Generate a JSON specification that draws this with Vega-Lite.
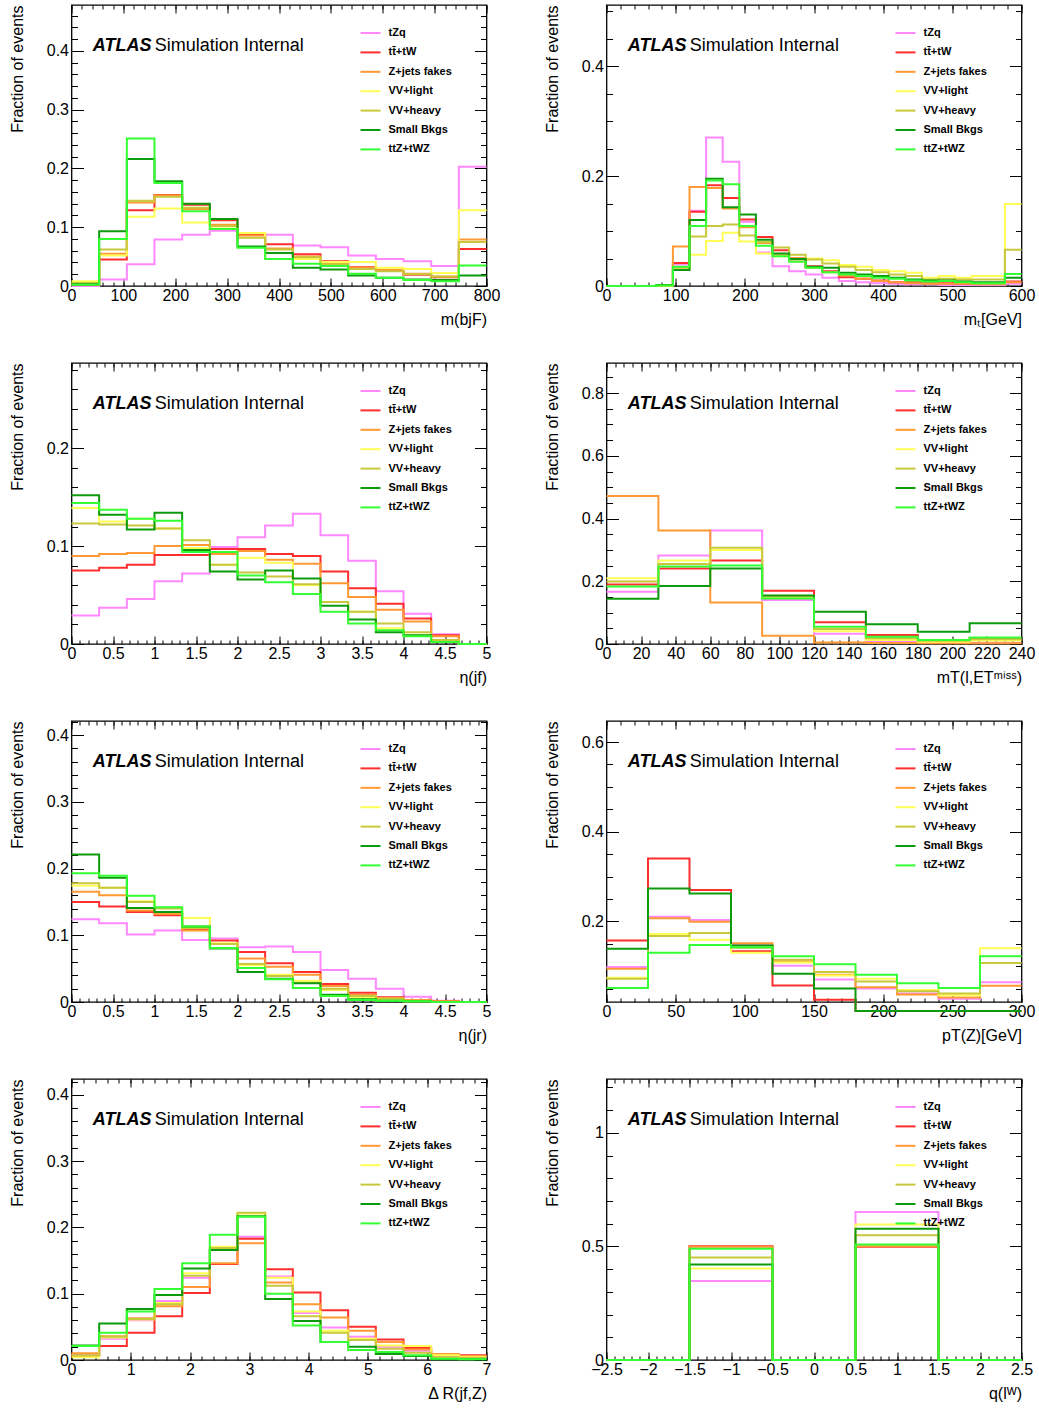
{
"$schema": "https://vega.github.io/schema/vega-lite/v6.json",
"padding": {"left": 8.5, "top": 3, "right": 0, "bottom": 0},
"bounds": "flush",
"columns": 2,
"spacing": {"row": 77, "column": 120},
"resolve": {"scale": {"color": "independent"}, "legend": {"color": "independent"}},
"datasets": {
"p1": [
{"x":0,"tzq":0,"ttw":0.002,"zj":0.004,"vvl":0.008,"vvh":0.005,"sb":0.003,"ttz":0.002},
{"x":53.33,"tzq":0.011,"ttw":0.045,"zj":0.055,"vvl":0.052,"vvh":0.062,"sb":0.093,"ttz":0.080},
{"x":106.67,"tzq":0.037,"ttw":0.129,"zj":0.142,"vvl":0.118,"vvh":0.145,"sb":0.216,"ttz":0.251},
{"x":160,"tzq":0.079,"ttw":0.155,"zj":0.154,"vvl":0.132,"vvh":0.152,"sb":0.178,"ttz":0.175},
{"x":213.33,"tzq":0.087,"ttw":0.138,"zj":0.131,"vvl":0.108,"vvh":0.133,"sb":0.140,"ttz":0.127},
{"x":266.67,"tzq":0.094,"ttw":0.112,"zj":0.104,"vvl":0.098,"vvh":0.102,"sb":0.114,"ttz":0.097},
{"x":320,"tzq":0.089,"ttw":0.087,"zj":0.086,"vvl":0.090,"vvh":0.082,"sb":0.067,"ttz":0.065},
{"x":373.33,"tzq":0.087,"ttw":0.071,"zj":0.064,"vvl":0.046,"vvh":0.062,"sb":0.056,"ttz":0.046},
{"x":426.67,"tzq":0.069,"ttw":0.054,"zj":0.050,"vvl":0.046,"vvh":0.049,"sb":0.031,"ttz":0.038},
{"x":480,"tzq":0.066,"ttw":0.042,"zj":0.038,"vvl":0.041,"vvh":0.037,"sb":0.028,"ttz":0.034},
{"x":533.33,"tzq":0.052,"ttw":0.032,"zj":0.031,"vvl":0.041,"vvh":0.029,"sb":0.018,"ttz":0.021},
{"x":586.67,"tzq":0.046,"ttw":0.027,"zj":0.028,"vvl":0.031,"vvh":0.025,"sb":0.014,"ttz":0.014},
{"x":640,"tzq":0.042,"ttw":0.019,"zj":0.021,"vvl":0.029,"vvh":0.020,"sb":0.011,"ttz":0.010},
{"x":693.33,"tzq":0.034,"ttw":0.015,"zj":0.016,"vvl":0.022,"vvh":0.016,"sb":0.010,"ttz":0.008},
{"x":746.67,"tzq":0.203,"ttw":0.063,"zj":0.079,"vvl":0.129,"vvh":0.075,"sb":0.018,"ttz":0.035},
{"x":800,"tzq":0.203,"ttw":0.063,"zj":0.079,"vvl":0.129,"vvh":0.075,"sb":0.018,"ttz":0.035}
],
"p2": [
{"x":0,"tzq":0,"ttw":0,"zj":0,"vvl":0,"vvh":0,"sb":0,"ttz":0},
{"x":24,"tzq":0,"ttw":0,"zj":0,"vvl":0,"vvh":0,"sb":0,"ttz":0},
{"x":48,"tzq":0,"ttw":0,"zj":0,"vvl":0,"vvh":0,"sb":0,"ttz":0},
{"x":72,"tzq":0,"ttw":0,"zj":0,"vvl":0.001,"vvh":0.001,"sb":0.002,"ttz":0.001},
{"x":96,"tzq":0.039,"ttw":0.042,"zj":0.072,"vvl":0.030,"vvh":0.033,"sb":0.029,"ttz":0.035},
{"x":120,"tzq":0.137,"ttw":0.135,"zj":0.180,"vvl":0.057,"vvh":0.090,"sb":0.120,"ttz":0.109},
{"x":144,"tzq":0.270,"ttw":0.183,"zj":0.178,"vvl":0.082,"vvh":0.109,"sb":0.195,"ttz":0.192},
{"x":168,"tzq":0.226,"ttw":0.160,"zj":0.141,"vvl":0.097,"vvh":0.112,"sb":0.143,"ttz":0.185},
{"x":192,"tzq":0.117,"ttw":0.121,"zj":0.107,"vvl":0.081,"vvh":0.092,"sb":0.130,"ttz":0.109},
{"x":216,"tzq":0.061,"ttw":0.089,"zj":0.078,"vvl":0.059,"vvh":0.080,"sb":0.084,"ttz":0.073},
{"x":240,"tzq":0.036,"ttw":0.065,"zj":0.056,"vvl":0.054,"vvh":0.070,"sb":0.059,"ttz":0.054},
{"x":264,"tzq":0.027,"ttw":0.051,"zj":0.048,"vvl":0.050,"vvh":0.057,"sb":0.049,"ttz":0.044},
{"x":288,"tzq":0.021,"ttw":0.036,"zj":0.033,"vvl":0.050,"vvh":0.048,"sb":0.035,"ttz":0.033},
{"x":312,"tzq":0.015,"ttw":0.027,"zj":0.025,"vvl":0.047,"vvh":0.041,"sb":0.033,"ttz":0.025},
{"x":336,"tzq":0.009,"ttw":0.016,"zj":0.019,"vvl":0.038,"vvh":0.035,"sb":0.024,"ttz":0.021},
{"x":360,"tzq":0.007,"ttw":0.013,"zj":0.013,"vvl":0.035,"vvh":0.029,"sb":0.021,"ttz":0.018},
{"x":384,"tzq":0.005,"ttw":0.010,"zj":0.009,"vvl":0.029,"vvh":0.025,"sb":0.018,"ttz":0.015},
{"x":408,"tzq":0.004,"ttw":0.007,"zj":0.007,"vvl":0.027,"vvh":0.021,"sb":0.015,"ttz":0.013},
{"x":432,"tzq":0.003,"ttw":0.007,"zj":0.005,"vvl":0.024,"vvh":0.018,"sb":0.012,"ttz":0.010},
{"x":456,"tzq":0.003,"ttw":0.005,"zj":0.004,"vvl":0.015,"vvh":0.012,"sb":0.010,"ttz":0.008},
{"x":480,"tzq":0.002,"ttw":0.005,"zj":0.004,"vvl":0.018,"vvh":0.013,"sb":0.010,"ttz":0.009},
{"x":504,"tzq":0.002,"ttw":0.004,"zj":0.004,"vvl":0.015,"vvh":0.012,"sb":0.008,"ttz":0.007},
{"x":528,"tzq":0.002,"ttw":0.004,"zj":0.003,"vvl":0.018,"vvh":0.012,"sb":0.007,"ttz":0.005},
{"x":552,"tzq":0.002,"ttw":0.004,"zj":0.003,"vvl":0.018,"vvh":0.012,"sb":0.007,"ttz":0.005},
{"x":576,"tzq":0.004,"ttw":0.008,"zj":0.007,"vvl":0.149,"vvh":0.066,"sb":0.015,"ttz":0.022},
{"x":600,"tzq":0.004,"ttw":0.008,"zj":0.007,"vvl":0.149,"vvh":0.066,"sb":0.015,"ttz":0.022}
],
"p3": [
{"x":0,"tzq":0.029,"ttw":0.075,"zj":0.090,"vvl":0.139,"vvh":0.123,"sb":0.152,"ttz":0.144},
{"x":0.333,"tzq":0.037,"ttw":0.078,"zj":0.092,"vvl":0.125,"vvh":0.122,"sb":0.132,"ttz":0.137},
{"x":0.667,"tzq":0.046,"ttw":0.081,"zj":0.093,"vvl":0.128,"vvh":0.121,"sb":0.117,"ttz":0.128},
{"x":1,"tzq":0.064,"ttw":0.091,"zj":0.100,"vvl":0.118,"vvh":0.118,"sb":0.134,"ttz":0.126},
{"x":1.333,"tzq":0.072,"ttw":0.091,"zj":0.101,"vvl":0.098,"vvh":0.106,"sb":0.096,"ttz":0.094},
{"x":1.667,"tzq":0.099,"ttw":0.097,"zj":0.092,"vvl":0.081,"vvh":0.081,"sb":0.074,"ttz":0.094},
{"x":2,"tzq":0.109,"ttw":0.097,"zj":0.095,"vvl":0.088,"vvh":0.073,"sb":0.066,"ttz":0.070},
{"x":2.333,"tzq":0.121,"ttw":0.092,"zj":0.086,"vvl":0.083,"vvh":0.069,"sb":0.075,"ttz":0.063},
{"x":2.667,"tzq":0.133,"ttw":0.090,"zj":0.082,"vvl":0.060,"vvh":0.061,"sb":0.067,"ttz":0.051},
{"x":3,"tzq":0.111,"ttw":0.074,"zj":0.062,"vvl":0.043,"vvh":0.043,"sb":0.039,"ttz":0.033},
{"x":3.333,"tzq":0.085,"ttw":0.057,"zj":0.048,"vvl":0.033,"vvh":0.033,"sb":0.025,"ttz":0.021},
{"x":3.667,"tzq":0.054,"ttw":0.041,"zj":0.035,"vvl":0.016,"vvh":0.021,"sb":0.012,"ttz":0.014},
{"x":4,"tzq":0.031,"ttw":0.026,"zj":0.023,"vvl":0.009,"vvh":0.012,"sb":0.009,"ttz":0.008},
{"x":4.333,"tzq":0.010,"ttw":0.009,"zj":0.008,"vvl":0.002,"vvh":0.004,"sb":0.002,"ttz":0.002},
{"x":4.667,"tzq":0,"ttw":0,"zj":0,"vvl":0,"vvh":0,"sb":0,"ttz":0},
{"x":5,"tzq":0,"ttw":0,"zj":0,"vvl":0,"vvh":0,"sb":0,"ttz":0}
],
"p4": [
{"x":0,"tzq":0.167,"ttw":0.190,"zj":0.472,"vvl":0.210,"vvh":0.199,"sb":0.144,"ttz":0.183},
{"x":30,"tzq":0.282,"ttw":0.241,"zj":0.362,"vvl":0.266,"vvh":0.255,"sb":0.185,"ttz":0.247},
{"x":60,"tzq":0.362,"ttw":0.266,"zj":0.132,"vvl":0.300,"vvh":0.307,"sb":0.241,"ttz":0.250},
{"x":90,"tzq":0.140,"ttw":0.170,"zj":0.026,"vvl":0.147,"vvh":0.152,"sb":0.155,"ttz":0.145},
{"x":120,"tzq":0.033,"ttw":0.069,"zj":0.005,"vvl":0.041,"vvh":0.048,"sb":0.103,"ttz":0.055},
{"x":150,"tzq":0.007,"ttw":0.029,"zj":0.003,"vvl":0.013,"vvh":0.018,"sb":0.063,"ttz":0.023},
{"x":180,"tzq":0.005,"ttw":0.013,"zj":0.002,"vvl":0.007,"vvh":0.010,"sb":0.039,"ttz":0.013},
{"x":210,"tzq":0.004,"ttw":0.018,"zj":0.002,"vvl":0.011,"vvh":0.015,"sb":0.066,"ttz":0.021},
{"x":240,"tzq":0.004,"ttw":0.018,"zj":0.002,"vvl":0.011,"vvh":0.015,"sb":0.066,"ttz":0.021}
],
"p5": [
{"x":0,"tzq":0.124,"ttw":0.150,"zj":0.165,"vvl":0.174,"vvh":0.178,"sb":0.221,"ttz":0.193},
{"x":0.333,"tzq":0.118,"ttw":0.143,"zj":0.160,"vvl":0.171,"vvh":0.171,"sb":0.186,"ttz":0.189},
{"x":0.667,"tzq":0.101,"ttw":0.135,"zj":0.137,"vvl":0.151,"vvh":0.150,"sb":0.141,"ttz":0.159},
{"x":1,"tzq":0.107,"ttw":0.130,"zj":0.132,"vvl":0.141,"vvh":0.140,"sb":0.135,"ttz":0.142},
{"x":1.333,"tzq":0.093,"ttw":0.108,"zj":0.107,"vvl":0.126,"vvh":0.111,"sb":0.113,"ttz":0.113},
{"x":1.667,"tzq":0.095,"ttw":0.092,"zj":0.087,"vvl":0.088,"vvh":0.087,"sb":0.080,"ttz":0.081},
{"x":2,"tzq":0.082,"ttw":0.075,"zj":0.065,"vvl":0.055,"vvh":0.057,"sb":0.045,"ttz":0.051},
{"x":2.333,"tzq":0.083,"ttw":0.058,"zj":0.053,"vvl":0.041,"vvh":0.039,"sb":0.035,"ttz":0.034},
{"x":2.667,"tzq":0.075,"ttw":0.045,"zj":0.041,"vvl":0.032,"vvh":0.029,"sb":0.028,"ttz":0.021},
{"x":3,"tzq":0.048,"ttw":0.027,"zj":0.024,"vvl":0.018,"vvh":0.020,"sb":0.011,"ttz":0.009},
{"x":3.333,"tzq":0.035,"ttw":0.014,"zj":0.011,"vvl":0.007,"vvh":0.009,"sb":0.004,"ttz":0.003},
{"x":3.667,"tzq":0.020,"ttw":0.007,"zj":0.006,"vvl":0.004,"vvh":0.005,"sb":0.002,"ttz":0.002},
{"x":4,"tzq":0.008,"ttw":0.003,"zj":0.003,"vvl":0.001,"vvh":0.001,"sb":0.001,"ttz":0.001},
{"x":4.333,"tzq":0.002,"ttw":0.001,"zj":0.001,"vvl":0,"vvh":0,"sb":0,"ttz":0},
{"x":4.667,"tzq":0,"ttw":0,"zj":0,"vvl":0,"vvh":0,"sb":0,"ttz":0},
{"x":5,"tzq":0,"ttw":0,"zj":0,"vvl":0,"vvh":0,"sb":0,"ttz":0}
],
"p6": [
{"x":0,"tzq":0.098,"ttw":0.157,"zj":0.094,"vvl":0.074,"vvh":0.072,"sb":0.139,"ttz":0.051},
{"x":30,"tzq":0.210,"ttw":0.340,"zj":0.207,"vvl":0.172,"vvh":0.167,"sb":0.273,"ttz":0.130},
{"x":60,"tzq":0.203,"ttw":0.270,"zj":0.199,"vvl":0.159,"vvh":0.174,"sb":0.262,"ttz":0.147},
{"x":90,"tzq":0.148,"ttw":0.133,"zj":0.151,"vvl":0.130,"vvh":0.141,"sb":0.146,"ttz":0.142},
{"x":120,"tzq":0.101,"ttw":0.057,"zj":0.111,"vvl":0.108,"vvh":0.114,"sb":0.083,"ttz":0.122},
{"x":150,"tzq":0.070,"ttw":0.025,"zj":0.081,"vvl":0.079,"vvh":0.087,"sb":0.050,"ttz":0.104},
{"x":180,"tzq":0.050,"ttw":0,"zj":0.053,"vvl":0.072,"vvh":0.066,"sb":0,"ttz":0.081},
{"x":210,"tzq":0.039,"ttw":0,"zj":0.037,"vvl":0.047,"vvh":0.044,"sb":0,"ttz":0.062},
{"x":240,"tzq":0.027,"ttw":0,"zj":0.030,"vvl":0.035,"vvh":0.039,"sb":0,"ttz":0.051},
{"x":270,"tzq":0.064,"ttw":0,"zj":0.056,"vvl":0.140,"vvh":0.107,"sb":0,"ttz":0.122},
{"x":300,"tzq":0.064,"ttw":0,"zj":0.056,"vvl":0.140,"vvh":0.107,"sb":0,"ttz":0.122}
],
"p7": [
{"x":0,"tzq":0.008,"ttw":0.006,"zj":0.010,"vvl":0.004,"vvh":0.007,"sb":0.022,"ttz":0.021},
{"x":0.467,"tzq":0.032,"ttw":0.021,"zj":0.036,"vvl":0.034,"vvh":0.035,"sb":0.055,"ttz":0.041},
{"x":0.933,"tzq":0.060,"ttw":0.041,"zj":0.063,"vvl":0.061,"vvh":0.062,"sb":0.077,"ttz":0.073},
{"x":1.4,"tzq":0.089,"ttw":0.066,"zj":0.081,"vvl":0.086,"vvh":0.084,"sb":0.098,"ttz":0.107},
{"x":1.867,"tzq":0.124,"ttw":0.101,"zj":0.110,"vvl":0.131,"vvh":0.127,"sb":0.138,"ttz":0.146},
{"x":2.333,"tzq":0.167,"ttw":0.145,"zj":0.146,"vvl":0.171,"vvh":0.169,"sb":0.166,"ttz":0.189},
{"x":2.8,"tzq":0.186,"ttw":0.183,"zj":0.176,"vvl":0.221,"vvh":0.222,"sb":0.217,"ttz":0.216},
{"x":3.267,"tzq":0.126,"ttw":0.137,"zj":0.117,"vvl":0.124,"vvh":0.112,"sb":0.092,"ttz":0.100},
{"x":3.733,"tzq":0.071,"ttw":0.102,"zj":0.084,"vvl":0.073,"vvh":0.066,"sb":0.059,"ttz":0.052},
{"x":4.2,"tzq":0.049,"ttw":0.075,"zj":0.064,"vvl":0.044,"vvh":0.041,"sb":0.027,"ttz":0.027},
{"x":4.667,"tzq":0.035,"ttw":0.050,"zj":0.044,"vvl":0.032,"vvh":0.030,"sb":0.020,"ttz":0.015},
{"x":5.133,"tzq":0.020,"ttw":0.031,"zj":0.027,"vvl":0.022,"vvh":0.017,"sb":0.009,"ttz":0.012},
{"x":5.6,"tzq":0.014,"ttw":0.018,"zj":0.016,"vvl":0.021,"vvh":0.011,"sb":0.006,"ttz":0.007},
{"x":6.067,"tzq":0.005,"ttw":0.007,"zj":0.009,"vvl":0.007,"vvh":0.004,"sb":0.001,"ttz":0.002},
{"x":6.533,"tzq":0.004,"ttw":0.007,"zj":0.006,"vvl":0.004,"vvh":0.003,"sb":0.001,"ttz":0.001},
{"x":7,"tzq":0.004,"ttw":0.007,"zj":0.006,"vvl":0.004,"vvh":0.003,"sb":0.001,"ttz":0.001}
],
"p8": [
{"x":-2.5,"tzq":0,"ttw":0,"zj":0,"vvl":0,"vvh":0,"sb":0,"ttz":0},
{"x":-1.5,"tzq":0.348,"ttw":0.501,"zj":0.498,"vvl":0.403,"vvh":0.451,"sb":0.420,"ttz":0.490},
{"x":-0.5,"tzq":0,"ttw":0,"zj":0,"vvl":0,"vvh":0,"sb":0,"ttz":0},
{"x":0.5,"tzq":0.652,"ttw":0.498,"zj":0.501,"vvl":0.597,"vvh":0.549,"sb":0.578,"ttz":0.508},
{"x":1.5,"tzq":0,"ttw":0,"zj":0,"vvl":0,"vvh":0,"sb":0,"ttz":0},
{"x":2.5,"tzq":0,"ttw":0,"zj":0,"vvl":0,"vvh":0,"sb":0,"ttz":0}
]
},
"concat": [
{"width":415,"height":281,"data":{"name":"p1"},
"transform":[{"fold":["tzq","ttw","zj","vvl","vvh","sb","ttz"],"as":["s","v"]}],
"resolve":{"axis":{"x":"independent","y":"independent"}},
"layer":[
{"mark":{"type":"line"},
"encoding":{
"x":{"field":"x","type":"quantitative","scale":{"domain":[0,800],"nice":false,"zero":false},"axis":{"orient":"bottom","values":[0,100,200,300,400,500,600,700,800],"tickSize":-8,"format":"~f","title":"m(bjF)","titleX":415,"titleY":33,"titleAlign":"right","titleBaseline":"middle"}},
"y":{"field":"v","type":"quantitative","scale":{"domain":[0,0.478],"nice":false,"zero":false},"axis":{"orient":"left","values":[0,0.1,0.2,0.3,0.4],"tickSize":-12,"format":"~f","title":"Fraction of events","titleX":-54,"titleY":0,"titleAngle":-90,"titleAlign":"right","titleBaseline":"middle"}},
"color":{"field":"s","type":"nominal","scale":{"domain":["tzq","ttw","zj","vvl","vvh","sb","ttz"],"range":["#ff88ff","#ff2e2e","#ff9933","#ffff55","#c8c83c","#0d9a0d","#33ff33"]},"legend":{"title":null,"orient":"none","legendX":288,"legendY":17,"labelExpr":"{tzq:'tZq',ttw:'tt\u0304+tW',zj:'Z+jets fakes',vvl:'VV+light',vvh:'VV+heavy',sb:'Small Bkgs',ttz:'ttZ+tWZ'}[datum.value]"}}}},
{"data":{"values":[{}]},"mark":{"type":"point","opacity":0},"encoding":{"x":{"datum":0,"type":"quantitative","axis":{"orient":"bottom","tickCount":40,"tickSize":-4,"labels":false,"title":null}},"y":{"datum":0,"type":"quantitative","axis":{"orient":"left","tickCount":24,"tickSize":-6,"labels":false,"title":null}}}},
{"data":{"values":[{}]},"mark":{"type":"point","opacity":0},"encoding":{"x":{"datum":0,"type":"quantitative","axis":{"orient":"top","values":[0,100,200,300,400,500,600,700,800],"tickSize":-8,"labels":false,"title":null}},"y":{"datum":0,"type":"quantitative","axis":{"orient":"right","values":[0,0.1,0.2,0.3,0.4],"tickSize":-12,"labels":false,"title":null}}}},
{"data":{"values":[{}]},"mark":{"type":"point","opacity":0},"encoding":{"x":{"datum":0,"type":"quantitative","axis":{"orient":"top","tickCount":40,"tickSize":-4,"labels":false,"title":null}},"y":{"datum":0,"type":"quantitative","axis":{"orient":"right","tickCount":24,"tickSize":-6,"labels":false,"title":null}}}},
{"data":{"values":[{}]},"mark":{"type":"text","text":"ATLAS","fontStyle":"italic","fontWeight":"bold","fontSize":18,"align":"left","baseline":"middle","dy":2},"encoding":{"x":{"datum":41,"type":"quantitative","axis":null},"y":{"datum":0.4116,"type":"quantitative","axis":null}}},
{"data":{"values":[{}]},"mark":{"type":"text","text":"Simulation Internal","fontSize":18,"align":"left","baseline":"middle","dx":62,"dy":2},"encoding":{"x":{"datum":41,"type":"quantitative","axis":null},"y":{"datum":0.4116,"type":"quantitative","axis":null}}}
]},
{"width":415,"height":281,"data":{"name":"p2"},
"transform":[{"fold":["tzq","ttw","zj","vvl","vvh","sb","ttz"],"as":["s","v"]}],
"resolve":{"axis":{"x":"independent","y":"independent"}},
"layer":[
{"mark":{"type":"line"},
"encoding":{
"x":{"field":"x","type":"quantitative","scale":{"domain":[0,600],"nice":false,"zero":false},"axis":{"orient":"bottom","values":[0,100,200,300,400,500,600],"tickSize":-8,"format":"~f","title":"m\u209c[GeV]","titleX":415,"titleY":33,"titleAlign":"right","titleBaseline":"middle"}},
"y":{"field":"v","type":"quantitative","scale":{"domain":[0,0.511],"nice":false,"zero":false},"axis":{"orient":"left","values":[0,0.2,0.4],"tickSize":-12,"format":"~f","title":"Fraction of events","titleX":-54,"titleY":0,"titleAngle":-90,"titleAlign":"right","titleBaseline":"middle"}},
"color":{"field":"s","type":"nominal","scale":{"domain":["tzq","ttw","zj","vvl","vvh","sb","ttz"],"range":["#ff88ff","#ff2e2e","#ff9933","#ffff55","#c8c83c","#0d9a0d","#33ff33"]},"legend":{"title":null,"orient":"none","legendX":288,"legendY":17,"labelExpr":"{tzq:'tZq',ttw:'tt\u0304+tW',zj:'Z+jets fakes',vvl:'VV+light',vvh:'VV+heavy',sb:'Small Bkgs',ttz:'ttZ+tWZ'}[datum.value]"}}}},
{"data":{"values":[{}]},"mark":{"type":"point","opacity":0},"encoding":{"x":{"datum":0,"type":"quantitative","axis":{"orient":"bottom","tickCount":30,"tickSize":-4,"labels":false,"title":null}},"y":{"datum":0,"type":"quantitative","axis":{"orient":"left","tickCount":10,"tickSize":-6,"labels":false,"title":null}}}},
{"data":{"values":[{}]},"mark":{"type":"point","opacity":0},"encoding":{"x":{"datum":0,"type":"quantitative","axis":{"orient":"top","values":[0,100,200,300,400,500,600],"tickSize":-8,"labels":false,"title":null}},"y":{"datum":0,"type":"quantitative","axis":{"orient":"right","values":[0,0.2,0.4],"tickSize":-12,"labels":false,"title":null}}}},
{"data":{"values":[{}]},"mark":{"type":"point","opacity":0},"encoding":{"x":{"datum":0,"type":"quantitative","axis":{"orient":"top","tickCount":30,"tickSize":-4,"labels":false,"title":null}},"y":{"datum":0,"type":"quantitative","axis":{"orient":"right","tickCount":10,"tickSize":-6,"labels":false,"title":null}}}},
{"data":{"values":[{}]},"mark":{"type":"text","text":"ATLAS","fontStyle":"italic","fontWeight":"bold","fontSize":18,"align":"left","baseline":"middle","dy":2},"encoding":{"x":{"datum":30.8,"type":"quantitative","axis":null},"y":{"datum":0.440,"type":"quantitative","axis":null}}},
{"data":{"values":[{}]},"mark":{"type":"text","text":"Simulation Internal","fontSize":18,"align":"left","baseline":"middle","dx":62,"dy":2},"encoding":{"x":{"datum":30.8,"type":"quantitative","axis":null},"y":{"datum":0.440,"type":"quantitative","axis":null}}}
]},
{"width":415,"height":281,"data":{"name":"p3"},
"transform":[{"fold":["tzq","ttw","zj","vvl","vvh","sb","ttz"],"as":["s","v"]}],
"resolve":{"axis":{"x":"independent","y":"independent"}},
"layer":[
{"mark":{"type":"line"},
"encoding":{
"x":{"field":"x","type":"quantitative","scale":{"domain":[0,5],"nice":false,"zero":false},"axis":{"orient":"bottom","values":[0,0.5,1,1.5,2,2.5,3,3.5,4,4.5,5],"tickSize":-8,"format":"~f","title":"η(jf)","titleX":415,"titleY":33,"titleAlign":"right","titleBaseline":"middle"}},
"y":{"field":"v","type":"quantitative","scale":{"domain":[0,0.287],"nice":false,"zero":false},"axis":{"orient":"left","values":[0,0.1,0.2],"tickSize":-12,"format":"~f","title":"Fraction of events","titleX":-54,"titleY":0,"titleAngle":-90,"titleAlign":"right","titleBaseline":"middle"}},
"color":{"field":"s","type":"nominal","scale":{"domain":["tzq","ttw","zj","vvl","vvh","sb","ttz"],"range":["#ff88ff","#ff2e2e","#ff9933","#ffff55","#c8c83c","#0d9a0d","#33ff33"]},"legend":{"title":null,"orient":"none","legendX":288,"legendY":17,"labelExpr":"{tzq:'tZq',ttw:'tt\u0304+tW',zj:'Z+jets fakes',vvl:'VV+light',vvh:'VV+heavy',sb:'Small Bkgs',ttz:'ttZ+tWZ'}[datum.value]"}}}},
{"data":{"values":[{}]},"mark":{"type":"point","opacity":0},"encoding":{"x":{"datum":0,"type":"quantitative","axis":{"orient":"bottom","tickCount":50,"tickSize":-4,"labels":false,"title":null}},"y":{"datum":0,"type":"quantitative","axis":{"orient":"left","tickCount":14,"tickSize":-6,"labels":false,"title":null}}}},
{"data":{"values":[{}]},"mark":{"type":"point","opacity":0},"encoding":{"x":{"datum":0,"type":"quantitative","axis":{"orient":"top","values":[0,0.5,1,1.5,2,2.5,3,3.5,4,4.5,5],"tickSize":-8,"labels":false,"title":null}},"y":{"datum":0,"type":"quantitative","axis":{"orient":"right","values":[0,0.1,0.2],"tickSize":-12,"labels":false,"title":null}}}},
{"data":{"values":[{}]},"mark":{"type":"point","opacity":0},"encoding":{"x":{"datum":0,"type":"quantitative","axis":{"orient":"top","tickCount":50,"tickSize":-4,"labels":false,"title":null}},"y":{"datum":0,"type":"quantitative","axis":{"orient":"right","tickCount":14,"tickSize":-6,"labels":false,"title":null}}}},
{"data":{"values":[{}]},"mark":{"type":"text","text":"ATLAS","fontStyle":"italic","fontWeight":"bold","fontSize":18,"align":"left","baseline":"middle","dy":2},"encoding":{"x":{"datum":0.257,"type":"quantitative","axis":null},"y":{"datum":0.247,"type":"quantitative","axis":null}}},
{"data":{"values":[{}]},"mark":{"type":"text","text":"Simulation Internal","fontSize":18,"align":"left","baseline":"middle","dx":62,"dy":2},"encoding":{"x":{"datum":0.257,"type":"quantitative","axis":null},"y":{"datum":0.247,"type":"quantitative","axis":null}}}
]},
{"width":415,"height":281,"data":{"name":"p4"},
"transform":[{"fold":["tzq","ttw","zj","vvl","vvh","sb","ttz"],"as":["s","v"]}],
"resolve":{"axis":{"x":"independent","y":"independent"}},
"layer":[
{"mark":{"type":"line"},
"encoding":{
"x":{"field":"x","type":"quantitative","scale":{"domain":[0,240],"nice":false,"zero":false},"axis":{"orient":"bottom","values":[0,20,40,60,80,100,120,140,160,180,200,220,240],"tickSize":-8,"format":"~f","title":"mT(l,ET\u1d50\u2071\u02e2\u02e2)","titleX":415,"titleY":33,"titleAlign":"right","titleBaseline":"middle"}},
"y":{"field":"v","type":"quantitative","scale":{"domain":[0,0.896],"nice":false,"zero":false},"axis":{"orient":"left","values":[0,0.2,0.4,0.6,0.8],"tickSize":-12,"format":"~f","title":"Fraction of events","titleX":-54,"titleY":0,"titleAngle":-90,"titleAlign":"right","titleBaseline":"middle"}},
"color":{"field":"s","type":"nominal","scale":{"domain":["tzq","ttw","zj","vvl","vvh","sb","ttz"],"range":["#ff88ff","#ff2e2e","#ff9933","#ffff55","#c8c83c","#0d9a0d","#33ff33"]},"legend":{"title":null,"orient":"none","legendX":288,"legendY":17,"labelExpr":"{tzq:'tZq',ttw:'tt\u0304+tW',zj:'Z+jets fakes',vvl:'VV+light',vvh:'VV+heavy',sb:'Small Bkgs',ttz:'ttZ+tWZ'}[datum.value]"}}}},
{"data":{"values":[{}]},"mark":{"type":"point","opacity":0},"encoding":{"x":{"datum":0,"type":"quantitative","axis":{"orient":"bottom","tickCount":48,"tickSize":-4,"labels":false,"title":null}},"y":{"datum":0,"type":"quantitative","axis":{"orient":"left","tickCount":18,"tickSize":-6,"labels":false,"title":null}}}},
{"data":{"values":[{}]},"mark":{"type":"point","opacity":0},"encoding":{"x":{"datum":0,"type":"quantitative","axis":{"orient":"top","values":[0,20,40,60,80,100,120,140,160,180,200,220,240],"tickSize":-8,"labels":false,"title":null}},"y":{"datum":0,"type":"quantitative","axis":{"orient":"right","values":[0,0.2,0.4,0.6,0.8],"tickSize":-12,"labels":false,"title":null}}}},
{"data":{"values":[{}]},"mark":{"type":"point","opacity":0},"encoding":{"x":{"datum":0,"type":"quantitative","axis":{"orient":"top","tickCount":48,"tickSize":-4,"labels":false,"title":null}},"y":{"datum":0,"type":"quantitative","axis":{"orient":"right","tickCount":18,"tickSize":-6,"labels":false,"title":null}}}},
{"data":{"values":[{}]},"mark":{"type":"text","text":"ATLAS","fontStyle":"italic","fontWeight":"bold","fontSize":18,"align":"left","baseline":"middle","dy":2},"encoding":{"x":{"datum":12.3,"type":"quantitative","axis":null},"y":{"datum":0.7715,"type":"quantitative","axis":null}}},
{"data":{"values":[{}]},"mark":{"type":"text","text":"Simulation Internal","fontSize":18,"align":"left","baseline":"middle","dx":62,"dy":2},"encoding":{"x":{"datum":12.3,"type":"quantitative","axis":null},"y":{"datum":0.7715,"type":"quantitative","axis":null}}}
]},
{"width":415,"height":281,"data":{"name":"p5"},
"transform":[{"fold":["tzq","ttw","zj","vvl","vvh","sb","ttz"],"as":["s","v"]}],
"resolve":{"axis":{"x":"independent","y":"independent"}},
"layer":[
{"mark":{"type":"line"},
"encoding":{
"x":{"field":"x","type":"quantitative","scale":{"domain":[0,5],"nice":false,"zero":false},"axis":{"orient":"bottom","values":[0,0.5,1,1.5,2,2.5,3,3.5,4,4.5,5],"tickSize":-8,"format":"~f","title":"η(jr)","titleX":415,"titleY":33,"titleAlign":"right","titleBaseline":"middle"}},
"y":{"field":"v","type":"quantitative","scale":{"domain":[0,0.421],"nice":false,"zero":false},"axis":{"orient":"left","values":[0,0.1,0.2,0.3,0.4],"tickSize":-12,"format":"~f","title":"Fraction of events","titleX":-54,"titleY":0,"titleAngle":-90,"titleAlign":"right","titleBaseline":"middle"}},
"color":{"field":"s","type":"nominal","scale":{"domain":["tzq","ttw","zj","vvl","vvh","sb","ttz"],"range":["#ff88ff","#ff2e2e","#ff9933","#ffff55","#c8c83c","#0d9a0d","#33ff33"]},"legend":{"title":null,"orient":"none","legendX":288,"legendY":17,"labelExpr":"{tzq:'tZq',ttw:'tt\u0304+tW',zj:'Z+jets fakes',vvl:'VV+light',vvh:'VV+heavy',sb:'Small Bkgs',ttz:'ttZ+tWZ'}[datum.value]"}}}},
{"data":{"values":[{}]},"mark":{"type":"point","opacity":0},"encoding":{"x":{"datum":0,"type":"quantitative","axis":{"orient":"bottom","tickCount":50,"tickSize":-4,"labels":false,"title":null}},"y":{"datum":0,"type":"quantitative","axis":{"orient":"left","tickCount":21,"tickSize":-6,"labels":false,"title":null}}}},
{"data":{"values":[{}]},"mark":{"type":"point","opacity":0},"encoding":{"x":{"datum":0,"type":"quantitative","axis":{"orient":"top","values":[0,0.5,1,1.5,2,2.5,3,3.5,4,4.5,5],"tickSize":-8,"labels":false,"title":null}},"y":{"datum":0,"type":"quantitative","axis":{"orient":"right","values":[0,0.1,0.2,0.3,0.4],"tickSize":-12,"labels":false,"title":null}}}},
{"data":{"values":[{}]},"mark":{"type":"point","opacity":0},"encoding":{"x":{"datum":0,"type":"quantitative","axis":{"orient":"top","tickCount":50,"tickSize":-4,"labels":false,"title":null}},"y":{"datum":0,"type":"quantitative","axis":{"orient":"right","tickCount":21,"tickSize":-6,"labels":false,"title":null}}}},
{"data":{"values":[{}]},"mark":{"type":"text","text":"ATLAS","fontStyle":"italic","fontWeight":"bold","fontSize":18,"align":"left","baseline":"middle","dy":2},"encoding":{"x":{"datum":0.257,"type":"quantitative","axis":null},"y":{"datum":0.3625,"type":"quantitative","axis":null}}},
{"data":{"values":[{}]},"mark":{"type":"text","text":"Simulation Internal","fontSize":18,"align":"left","baseline":"middle","dx":62,"dy":2},"encoding":{"x":{"datum":0.257,"type":"quantitative","axis":null},"y":{"datum":0.3625,"type":"quantitative","axis":null}}}
]},
{"width":415,"height":281,"data":{"name":"p6"},
"transform":[{"fold":["tzq","ttw","zj","vvl","vvh","sb","ttz"],"as":["s","v"]}],
"resolve":{"axis":{"x":"independent","y":"independent"}},
"layer":[
{"mark":{"type":"line"},
"encoding":{
"x":{"field":"x","type":"quantitative","scale":{"domain":[0,300],"nice":false,"zero":false},"axis":{"orient":"bottom","values":[0,50,100,150,200,250,300],"tickSize":-8,"format":"~f","title":"pT(Z)[GeV]","titleX":415,"titleY":33,"titleAlign":"right","titleBaseline":"middle"}},
"y":{"field":"v","type":"quantitative","scale":{"domain":[0.02,0.647],"nice":false,"zero":false},"axis":{"orient":"left","values":[0.2,0.4,0.6],"tickSize":-12,"format":"~f","title":"Fraction of events","titleX":-54,"titleY":0,"titleAngle":-90,"titleAlign":"right","titleBaseline":"middle"}},
"color":{"field":"s","type":"nominal","scale":{"domain":["tzq","ttw","zj","vvl","vvh","sb","ttz"],"range":["#ff88ff","#ff2e2e","#ff9933","#ffff55","#c8c83c","#0d9a0d","#33ff33"]},"legend":{"title":null,"orient":"none","legendX":288,"legendY":17,"labelExpr":"{tzq:'tZq',ttw:'tt\u0304+tW',zj:'Z+jets fakes',vvl:'VV+light',vvh:'VV+heavy',sb:'Small Bkgs',ttz:'ttZ+tWZ'}[datum.value]"}}}},
{"data":{"values":[{}]},"mark":{"type":"point","opacity":0},"encoding":{"x":{"datum":0,"type":"quantitative","axis":{"orient":"bottom","tickCount":30,"tickSize":-4,"labels":false,"title":null}},"y":{"datum":0.1,"type":"quantitative","axis":{"orient":"left","tickCount":12,"tickSize":-6,"labels":false,"title":null}}}},
{"data":{"values":[{}]},"mark":{"type":"point","opacity":0},"encoding":{"x":{"datum":0,"type":"quantitative","axis":{"orient":"top","values":[0,50,100,150,200,250,300],"tickSize":-8,"labels":false,"title":null}},"y":{"datum":0.1,"type":"quantitative","axis":{"orient":"right","values":[0.2,0.4,0.6],"tickSize":-12,"labels":false,"title":null}}}},
{"data":{"values":[{}]},"mark":{"type":"point","opacity":0},"encoding":{"x":{"datum":0,"type":"quantitative","axis":{"orient":"top","tickCount":30,"tickSize":-4,"labels":false,"title":null}},"y":{"datum":0.1,"type":"quantitative","axis":{"orient":"right","tickCount":12,"tickSize":-6,"labels":false,"title":null}}}},
{"data":{"values":[{}]},"mark":{"type":"text","text":"ATLAS","fontStyle":"italic","fontWeight":"bold","fontSize":18,"align":"left","baseline":"middle","dy":2},"encoding":{"x":{"datum":15.4,"type":"quantitative","axis":null},"y":{"datum":0.5599,"type":"quantitative","axis":null}}},
{"data":{"values":[{}]},"mark":{"type":"text","text":"Simulation Internal","fontSize":18,"align":"left","baseline":"middle","dx":62,"dy":2},"encoding":{"x":{"datum":15.4,"type":"quantitative","axis":null},"y":{"datum":0.5599,"type":"quantitative","axis":null}}}
]},
{"width":415,"height":281,"data":{"name":"p7"},
"transform":[{"fold":["tzq","ttw","zj","vvl","vvh","sb","ttz"],"as":["s","v"]}],
"resolve":{"axis":{"x":"independent","y":"independent"}},
"layer":[
{"mark":{"type":"line"},
"encoding":{
"x":{"field":"x","type":"quantitative","scale":{"domain":[0,7],"nice":false,"zero":false},"axis":{"orient":"bottom","values":[0,1,2,3,4,5,6,7],"tickSize":-8,"format":"~f","title":"Δ R(jf,Z)","titleX":415,"titleY":33,"titleAlign":"right","titleBaseline":"middle"}},
"y":{"field":"v","type":"quantitative","scale":{"domain":[0,0.424],"nice":false,"zero":false},"axis":{"orient":"left","values":[0,0.1,0.2,0.3,0.4],"tickSize":-12,"format":"~f","title":"Fraction of events","titleX":-54,"titleY":0,"titleAngle":-90,"titleAlign":"right","titleBaseline":"middle"}},
"color":{"field":"s","type":"nominal","scale":{"domain":["tzq","ttw","zj","vvl","vvh","sb","ttz"],"range":["#ff88ff","#ff2e2e","#ff9933","#ffff55","#c8c83c","#0d9a0d","#33ff33"]},"legend":{"title":null,"orient":"none","legendX":288,"legendY":17,"labelExpr":"{tzq:'tZq',ttw:'tt\u0304+tW',zj:'Z+jets fakes',vvl:'VV+light',vvh:'VV+heavy',sb:'Small Bkgs',ttz:'ttZ+tWZ'}[datum.value]"}}}},
{"data":{"values":[{}]},"mark":{"type":"point","opacity":0},"encoding":{"x":{"datum":0,"type":"quantitative","axis":{"orient":"bottom","tickCount":35,"tickSize":-4,"labels":false,"title":null}},"y":{"datum":0,"type":"quantitative","axis":{"orient":"left","tickCount":21,"tickSize":-6,"labels":false,"title":null}}}},
{"data":{"values":[{}]},"mark":{"type":"point","opacity":0},"encoding":{"x":{"datum":0,"type":"quantitative","axis":{"orient":"top","values":[0,1,2,3,4,5,6,7],"tickSize":-8,"labels":false,"title":null}},"y":{"datum":0,"type":"quantitative","axis":{"orient":"right","values":[0,0.1,0.2,0.3,0.4],"tickSize":-12,"labels":false,"title":null}}}},
{"data":{"values":[{}]},"mark":{"type":"point","opacity":0},"encoding":{"x":{"datum":0,"type":"quantitative","axis":{"orient":"top","tickCount":35,"tickSize":-4,"labels":false,"title":null}},"y":{"datum":0,"type":"quantitative","axis":{"orient":"right","tickCount":21,"tickSize":-6,"labels":false,"title":null}}}},
{"data":{"values":[{}]},"mark":{"type":"text","text":"ATLAS","fontStyle":"italic","fontWeight":"bold","fontSize":18,"align":"left","baseline":"middle","dy":2},"encoding":{"x":{"datum":0.359,"type":"quantitative","axis":null},"y":{"datum":0.365,"type":"quantitative","axis":null}}},
{"data":{"values":[{}]},"mark":{"type":"text","text":"Simulation Internal","fontSize":18,"align":"left","baseline":"middle","dx":62,"dy":2},"encoding":{"x":{"datum":0.359,"type":"quantitative","axis":null},"y":{"datum":0.365,"type":"quantitative","axis":null}}}
]},
{"width":415,"height":281,"data":{"name":"p8"},
"transform":[{"fold":["tzq","ttw","zj","vvl","vvh","sb","ttz"],"as":["s","v"]}],
"resolve":{"axis":{"x":"independent","y":"independent"}},
"layer":[
{"mark":{"type":"line"},
"encoding":{
"x":{"field":"x","type":"quantitative","scale":{"domain":[-2.5,2.5],"nice":false,"zero":false},"axis":{"orient":"bottom","values":[-2.5,-2,-1.5,-1,-0.5,0,0.5,1,1.5,2,2.5],"tickSize":-8,"format":"~f","title":"q(l\u1d42)","titleX":415,"titleY":33,"titleAlign":"right","titleBaseline":"middle"}},
"y":{"field":"v","type":"quantitative","scale":{"domain":[0,1.237],"nice":false,"zero":false},"axis":{"orient":"left","values":[0,0.5,1],"tickSize":-12,"format":"~f","title":"Fraction of events","titleX":-54,"titleY":0,"titleAngle":-90,"titleAlign":"right","titleBaseline":"middle"}},
"color":{"field":"s","type":"nominal","scale":{"domain":["tzq","ttw","zj","vvl","vvh","sb","ttz"],"range":["#ff88ff","#ff2e2e","#ff9933","#ffff55","#c8c83c","#0d9a0d","#33ff33"]},"legend":{"title":null,"orient":"none","legendX":288,"legendY":17,"labelExpr":"{tzq:'tZq',ttw:'tt\u0304+tW',zj:'Z+jets fakes',vvl:'VV+light',vvh:'VV+heavy',sb:'Small Bkgs',ttz:'ttZ+tWZ'}[datum.value]"}}}},
{"data":{"values":[{}]},"mark":{"type":"point","opacity":0},"encoding":{"x":{"datum":0,"type":"quantitative","axis":{"orient":"bottom","tickCount":50,"tickSize":-4,"labels":false,"title":null}},"y":{"datum":0,"type":"quantitative","axis":{"orient":"left","tickCount":12,"tickSize":-6,"labels":false,"title":null}}}},
{"data":{"values":[{}]},"mark":{"type":"point","opacity":0},"encoding":{"x":{"datum":0,"type":"quantitative","axis":{"orient":"top","values":[-2.5,-2,-1.5,-1,-0.5,0,0.5,1,1.5,2,2.5],"tickSize":-8,"labels":false,"title":null}},"y":{"datum":0,"type":"quantitative","axis":{"orient":"right","values":[0,0.5,1],"tickSize":-12,"labels":false,"title":null}}}},
{"data":{"values":[{}]},"mark":{"type":"point","opacity":0},"encoding":{"x":{"datum":0,"type":"quantitative","axis":{"orient":"top","tickCount":50,"tickSize":-4,"labels":false,"title":null}},"y":{"datum":0,"type":"quantitative","axis":{"orient":"right","tickCount":12,"tickSize":-6,"labels":false,"title":null}}}},
{"data":{"values":[{}]},"mark":{"type":"text","text":"ATLAS","fontStyle":"italic","fontWeight":"bold","fontSize":18,"align":"left","baseline":"middle","dy":2},"encoding":{"x":{"datum":-2.243,"type":"quantitative","axis":null},"y":{"datum":1.065,"type":"quantitative","axis":null}}},
{"data":{"values":[{}]},"mark":{"type":"text","text":"Simulation Internal","fontSize":18,"align":"left","baseline":"middle","dx":62,"dy":2},"encoding":{"x":{"datum":-2.243,"type":"quantitative","axis":null},"y":{"datum":1.065,"type":"quantitative","axis":null}}}
]}
],
"config": {
"font": "Liberation Sans",
"view": {"stroke": "black", "strokeWidth": 1.3},
"axis": {"domain": false, "grid": false, "tickColor": "black", "tickWidth": 1, "labelFont": "Liberation Sans", "labelFontSize": 16, "labelColor": "black", "titleFont": "Liberation Sans", "titleFontSize": 16, "titleFontWeight": "normal", "titleColor": "black", "labelFlush": false, "labelOverlap": false},
"axisX": {"labelPadding": 9.5},
"axisY": {"labelPadding": 15},
"line": {"strokeWidth": 2, "interpolate": "step-after", "clip": true},
"text": {"font": "Liberation Sans", "color": "black"},
"legend": {"symbolType": "stroke", "symbolSize": 400, "symbolStrokeWidth": 2, "labelFont": "Liberation Sans", "labelFontSize": 11, "labelFontWeight": "bold", "labelColor": "black", "labelOffset": 7, "rowPadding": 3.4, "padding": 0}
}
}
